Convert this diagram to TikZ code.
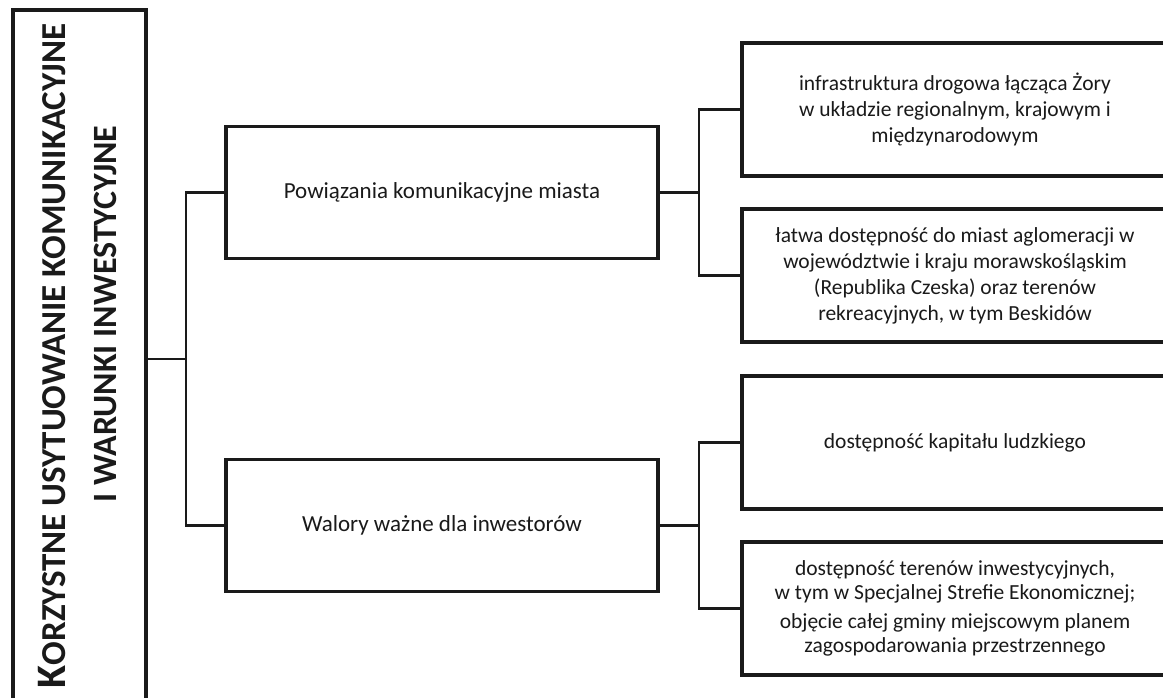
\documentclass[tikz,border=0pt]{standalone}
\usepackage{fontspec}
\setmainfont{Carlito}
\definecolor{ink}{HTML}{1A1A1A}
\tikzset{
  box/.style={draw=ink, line width=3.2pt, fill=white, inner sep=0pt, text=ink, align=center,
              font=\fontsize{21.5}{26}\selectfont},
  midbox/.style={box, minimum width=432pt, minimum height=132pt, font=\fontsize{23}{28}\selectfont},
  rbox/.style={box, minimum width=426pt, minimum height=133pt},
  conn/.style={draw=ink, line width=2.8pt},
  title/.style={rotate=90, anchor=base, inner sep=0pt, text=ink, font=\bfseries}
}
\begin{document}
\begin{tikzpicture}[x=1pt,y=-1pt]
\useasboundingbox (0,0) rectangle (1163,698);
\clip (0,0) rectangle (1163,698);
\fill[white] (0,0) rectangle (1163,698);
% left title box
\node[box, minimum width=133pt, minimum height=698pt] (left) at (79.5,359) {};
\node[title] (t1) at (65,356) {{\fontsize{42}{42}\selectfont K}{\fontsize{35}{35}\selectfont ORZYSTNE USYTUOWANIE KOMUNIKACYJNE}};
\node[title] (t2) at (116,314) {\fontsize{34}{34}\selectfont I WARUNKI INWESTYCYJNE};
% middle boxes
\node[midbox] (mid1) at (442,192.5) {Powiązania komunikacyjne miasta};
\node[midbox] (mid2) at (442,525.5) {Walory ważne dla inwestorów};
% right boxes
\node[rbox] (r1) at (955,109.5) {infrastruktura drogowa łącząca Żory\\ w układzie regionalnym, krajowym i\\ międzynarodowym};
\node[rbox] (r2) at (955,275.5) {łatwa dostępność do miast aglomeracji w\\ województwie i kraju morawskośląskim\\ (Republika Czeska) oraz terenów\\ rekreacyjnych, w tym Beskidów};
\node[rbox] (r3) at (955,442.5) {dostępność kapitału ludzkiego};
\node[rbox, font=\fontsize{21.5}{24}\selectfont] (r4) at (955,608.5) {dostępność terenów inwestycyjnych,\\ w tym w Specjalnej Strefie Ekonomicznej;\\[5pt] objęcie całej gminy miejscowym planem\\ zagospodarowania przestrzennego};
% junctions
\coordinate (j1) at (186,359);
\coordinate (j2) at (699,192.5);
\coordinate (j3) at (699,525.5);
% connectors
\draw[conn] (left.east |- j1) -- (j1);
\draw[conn] (mid1.west) -- (mid1.west -| j1) -- (mid2.west -| j1) -- (mid2.west);
\draw[conn] (mid1.east) -- (j2);
\draw[conn] (r1.west) -- (r1.west -| j2) -- (r2.west -| j2) -- (r2.west);
\draw[conn] (mid2.east) -- (j3);
\draw[conn] (r3.west) -- (r3.west -| j3) -- (r4.west -| j3) -- (r4.west);
\end{tikzpicture}
\end{document}
